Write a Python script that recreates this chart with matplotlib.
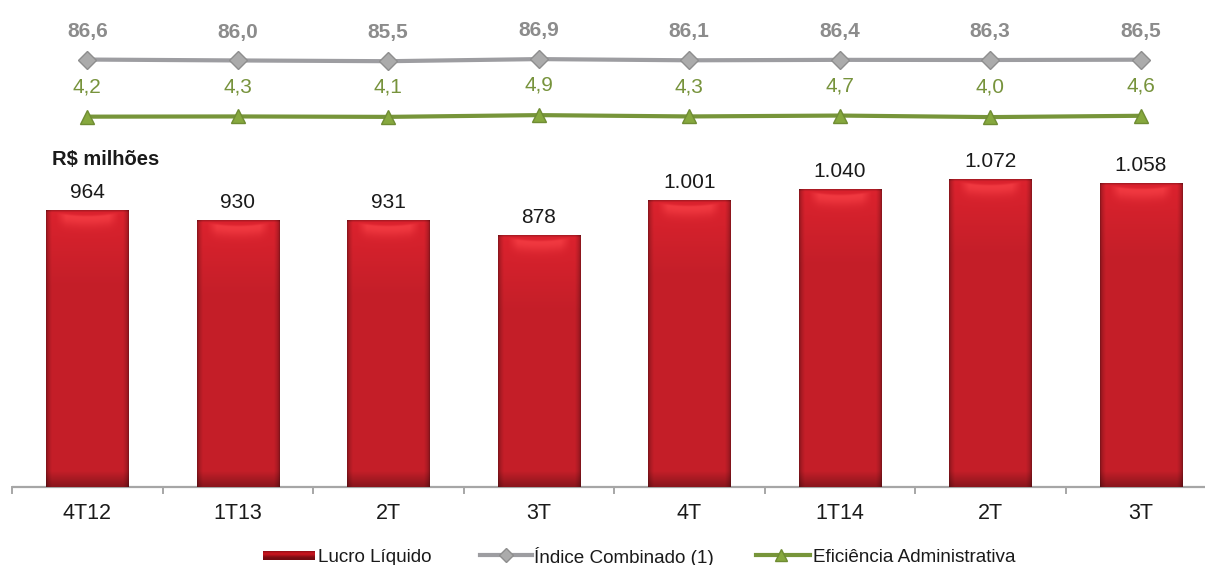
import numpy as np
import matplotlib
matplotlib.use("Agg")
import matplotlib.pyplot as plt
from matplotlib.lines import Line2D

plt.rcParams['font.family'] = ['Liberation Sans', 'DejaVu Sans']

categories = ["4T12", "1T13", "2T", "3T", "4T", "1T14", "2T", "3T"]
lucro = [964, 930, 931, 878, 1001, 1040, 1072, 1058]
lucro_labels = ["964", "930", "931", "878", "1.001", "1.040", "1.072", "1.058"]
indice = [86.6, 86.0, 85.5, 86.9, 86.1, 86.4, 86.3, 86.5]
eficiencia = [4.2, 4.3, 4.1, 4.9, 4.3, 4.7, 4.0, 4.6]

W, H = 1205, 565
fig = plt.figure(figsize=(W / 100, H / 100), dpi=100)


def fx(px):
    return px / W


def fy(py):
    return 1 - py / H


# main bar axes: baseline at y=487 px, categories 150.5 px apart starting at x=12
left, base = 12, 487
step = 150.5
top = 487 - 0.2864 * 1200
ax = fig.add_axes([fx(left), fy(base), fx(step * 8), (base - top) / H])
ax.set_xlim(-0.5, 7.5)
ax.set_ylim(0, 1200)
ax.axis("off")

GREY = "#a6a6a6"
ax.plot([-0.5, 7.5], [0, 0], color=GREY, lw=1.6, solid_capstyle="butt",
        clip_on=False, zorder=1)
for b in np.arange(-0.5, 8.0, 1.0):
    ax.plot([b, b], [0, -20], color=GREY, lw=1.4, clip_on=False, zorder=1)

x = np.arange(len(categories))
bw = 0.545


def bar_rgba(h, nx=160, ny=500):
    u = np.linspace(0, 1, nx)
    y = np.linspace(0, h, ny)
    U, Y = np.meshgrid(u, y)
    dtop = h - Y
    base_c = np.array([0.77, 0.12, 0.16])
    img = np.ones((ny, nx, 3)) * base_c
    # darker side edges
    e = np.clip(np.minimum(U, 1 - U) / 0.07, 0, 1)
    shade = 0.60 + 0.40 * np.sqrt(e)
    # brighter body towards the top
    shade = shade * (1.0 + 0.12 * np.clip(1 - dtop / 260, 0, 1))
    # darker bottom band
    shade = shade * (1 - 0.30 * np.clip(1 - Y / 55, 0, 1))
    img = img * shade[..., None]
    # curved highlight below the top edge
    hu = np.clip((0.38 - np.abs(U - 0.5)) / 0.12, 0, 1)
    smile = 12 * ((U - 0.5) / 0.4) ** 2
    d = dtop - 24 + smile
    hv = np.where(d < 0, np.exp(-(d / 6) ** 2), np.exp(-(d / 32) ** 2))
    hl = (hv * hu)[..., None] * 0.6
    light = np.array([1.0, 0.28, 0.30])
    img = img * (1 - hl) + light * hl
    # thin darker top rim
    rim = np.clip(1 - dtop / 7, 0, 1)[..., None] * 0.25
    img = img * (1 - rim)
    return np.clip(img, 0, 1)


for xi, v, lab in zip(x, lucro, lucro_labels):
    ax.imshow(bar_rgba(v), extent=(xi - bw / 2, xi + bw / 2, 0, v),
              origin="lower", aspect="auto", interpolation="bilinear", zorder=2)
    ax.annotate(lab, (xi, v), xytext=(0, 9), textcoords="offset points",
                ha="center", va="baseline", fontsize=15, color="#1a1a1a")
ax.set_xlim(-0.5, 7.5)
ax.set_ylim(0, 1200)

for xi, c in zip(x, categories):
    ax.annotate(c, (xi, 0), xytext=(0, -11.5), textcoords="offset points",
                ha="center", va="top", fontsize=15.5, color="#1a1a1a",
                annotation_clip=False)

fig.text(fx(52), fy(165), "R$ milhões", fontsize=14.5, fontweight="bold",
         color="#1a1a1a", va="baseline", ha="left")

# combined index line
LINE_GREY = "#9d9da1"
axg = fig.add_axes([fx(left), fy(80), fx(step * 8), 40 / H])
axg.set_xlim(-0.5, 7.5)
axg.set_ylim(86.3 - 13.3, 86.3 + 13.3)
axg.axis("off")
axg.plot(x, indice, color=LINE_GREY, lw=3, marker="D", ms=9,
         mfc="#ababab", mec="#8e8e8e", mew=1.0, zorder=3, clip_on=False)
for xi, v in zip(x, indice):
    axg.annotate(f"{v:.1f}".replace(".", ","), (xi, v), xytext=(0, 16.5),
                 textcoords="offset points", ha="center", va="baseline",
                 fontsize=15, fontweight="bold", color="#8c8c8c")

# administrative efficiency line
GREEN = "#77953a"
axe = fig.add_axes([fx(left), fy(134), fx(step * 8), 36 / H])
axe.set_xlim(-0.5, 7.5)
axe.set_ylim(4.5 - 8.2, 4.5 + 8.2)
axe.axis("off")
axe.plot(x, eficiencia, color=GREEN, lw=3, marker="^", ms=10,
         mfc="#86a83e", mec="#6f8c33", mew=1.0, zorder=3, clip_on=False)
for xi, v in zip(x, eficiencia):
    axe.annotate(f"{v:.1f}".replace(".", ","), (xi, v), xytext=(0, 17.5),
                 textcoords="offset points", ha="center", va="baseline",
                 fontsize=15, color="#77933c")

# legend
ly = fy(555)
sw = np.linspace(0, 1, 30)
grad = np.array([0.60, 0.06, 0.09])[None, None, :] * \
    (0.75 + 0.55 * np.exp(-((sw - 0.3) / 0.3) ** 2))[:, None, None]
lax = fig.add_axes([0, 0, 1, 1], facecolor="none")
lax.axis("off")
lax.imshow(np.clip(grad, 0, 1), extent=(fx(263), fx(315), fy(560), fy(551)),
           aspect="auto", origin="upper", interpolation="bilinear")
lax.set_xlim(0, 1)
lax.set_ylim(0, 1)
LFS = 13.6
lax.text(fx(318), ly, "Lucro Líquido", fontsize=LFS, va="center_baseline",
         ha="left", color="#1a1a1a")
lax.add_line(Line2D([fx(480), fx(532)], [ly, ly], color=LINE_GREY, lw=3))
lax.add_line(Line2D([fx(506)], [ly], marker="D", ms=7, mfc="#ababab",
                    mec="#8e8e8e", lw=0))
lax.text(fx(534), ly, "Índice Combinado (1)", fontsize=LFS,
         va="center_baseline", ha="left", color="#1a1a1a")
lax.add_line(Line2D([fx(756), fx(810)], [ly, ly], color=GREEN, lw=3))
lax.add_line(Line2D([fx(781)], [ly], marker="^", ms=8, mfc="#86a83e",
                    mec="#6f8c33", lw=0))
lax.text(fx(813), ly, "Eficiência Administrativa", fontsize=LFS,
         va="center_baseline", ha="left", color="#1a1a1a")

fig.savefig("out.png", dpi=100)
